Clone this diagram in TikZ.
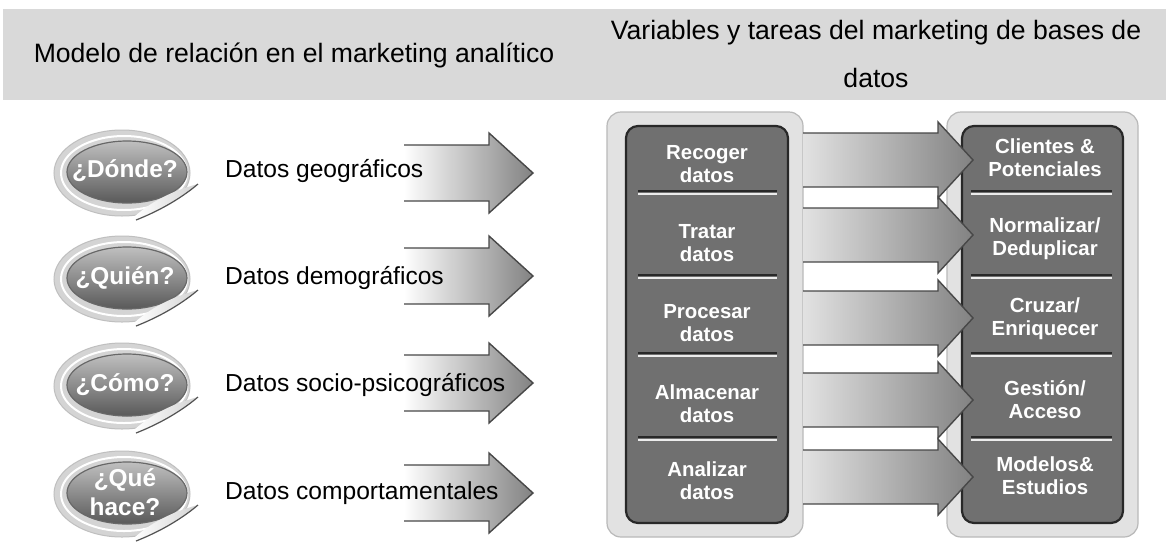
\documentclass[tikz,border=0pt]{standalone}
\usepackage{fontspec}
\setmainfont{Liberation Sans}
\usetikzlibrary{positioning,calc}
\definecolor{mkHead}{RGB}{217,217,217}
\definecolor{mkDark}{RGB}{112,112,112}
\definecolor{mkDeep}{RGB}{40,40,40}
\definecolor{mkFrame}{RGB}{226,226,226}
\definecolor{mkRing}{RGB}{212,212,212}
\definecolor{mkArrow}{RGB}{130,130,130}

\tikzset{
  headtext/.style={font=\fontsize{13.3}{24}\selectfont, align=center},
  asktext/.style={font=\fontsize{12.2}{14.5}\selectfont\bfseries, text=white, align=center},
  datatext/.style={font=\fontsize{12.3}{14}\selectfont, anchor=west},
  tasktext/.style={font=\fontsize{10.2}{11.5}\selectfont\bfseries, text=white, align=center},
  panelframe/.style={fill=mkFrame, draw=gray!55, line width=0.6pt, rounded corners=7pt},
  panelbody/.style={fill=mkDark, draw=mkDeep, line width=1.1pt, rounded corners=6pt},
  arrowedge/.style={draw=mkDeep!85, line width=0.7pt, line join=miter},
}

% block arrow: x start, x head, x tip, y centre, half body, half head, start colour
\newcommand{\blockarrow}[7]{%
  \shade[left color=#7, right color=mkArrow] (#1,#4-#5) -- (#2,#4-#5) -- (#2,#4-#6) -- (#3,#4)
    -- (#2,#4+#6) -- (#2,#4+#5) -- (#1,#4+#5) -- cycle;
  \draw[arrowedge] (#1,#4-#5) -- (#2,#4-#5) -- (#2,#4-#6) -- (#3,#4)
    -- (#2,#4+#6) -- (#2,#4+#5) -- (#1,#4+#5);
}

% sticker bubble round a centre, with its peeled corner
\newcommand{\sticker}[2]{%
  \fill[mkRing, draw=gray!50, line width=0.5pt] (#1,#2) ellipse [x radius=68, y radius=43];
  \draw[white, line width=1pt] (#1+2,#2) ellipse [x radius=63, y radius=37];
  \shade[top color=gray!50, bottom color=gray!70!black, draw=mkDeep!70, line width=0.6pt]
    (#1+5,#2-1) ellipse [x radius=60, y radius=31];
  \shade[left color=white, right color=gray!35] (#1+12,#2+44) .. controls (#1+30,#2+28) and (#1+50,#2+18) .. (#1+76,#2+11)
    .. controls (#1+56,#2+28) and (#1+32,#2+40) .. (#1+14,#2+47) -- cycle;
  \draw[mkDeep!80, line width=0.6pt] (#1+76,#2+11) .. controls (#1+56,#2+28) and (#1+32,#2+40) .. (#1+14,#2+47);
}

\begin{document}
\begin{tikzpicture}[x=0.5pt, y=-0.5pt]
  \fill[white] (0,0) rectangle (1170,541);
  \useasboundingbox (0,0) rectangle (1170,541);

  % Header band
  \fill[mkHead] (3,9) rectangle (1166,100);
  \node[headtext] (hdrLeft) at (294,55) {Modelo de relación en el marketing analítico};
  \node[headtext] (hdrRight) at (876,54) {Variables y tareas del marketing de bases de\\datos};

  % Left: questions and data types
  \sticker{122}{173}
  \sticker{122}{279}
  \sticker{122}{386}
  \sticker{122}{494}

  \blockarrow{404}{489}{533}{173}{28}{40}{white}
  \blockarrow{404}{489}{533}{276}{28}{40}{white}
  \blockarrow{404}{489}{533}{383}{28}{40}{white}
  \blockarrow{404}{489}{533}{493}{28}{40}{white}

  \node[asktext] (askWhere) at (125,171) {¿Dónde?};
  \node[asktext] (askWho) at (125,278) {¿Quién?};
  \node[asktext] (askHow) at (125,385) {¿Cómo?};
  \node[asktext] (askWhat) at (125,492) {¿Qué\\hace?};

  \node[datatext] (datGeo) at (218,171) {Datos geográficos};
  \node[datatext] (datDemo) at (218,278) {Datos demográficos};
  \node[datatext] (datSocio) at (218,385) {Datos socio-psicográficos};
  \node[datatext] (datComp) at (218,493) {Datos comportamentales};

  % Right: task panels
  \draw[panelframe] (607,112) rectangle (803,537);
  \draw[panelbody] (626,126) rectangle (788,523);
  \draw[panelframe] (947,112) rectangle (1138,537);
  \draw[panelbody] (962,126) rectangle (1123,523);

  % Dividers
  \foreach \dy in {191,275,353,437}{
    \draw[mkDeep, line width=1pt] (638,\dy) -- (777,\dy);
    \draw[white!85!gray, line width=0.7pt] (638,\dy+3) -- (777,\dy+3);
    \draw[mkDeep, line width=1pt] (971,\dy) -- (1112,\dy);
    \draw[white!85!gray, line width=0.7pt] (971,\dy+3) -- (1112,\dy+3);
  }

  \blockarrow{803}{938}{973}{160}{27}{38}{mkFrame}
  \blockarrow{803}{938}{973}{235}{27}{38}{mkFrame}
  \blockarrow{803}{938}{973}{318}{27}{38}{mkFrame}
  \blockarrow{803}{938}{973}{400}{27}{38}{mkFrame}
  \blockarrow{803}{938}{973}{477}{27}{38}{mkFrame}

  \node[tasktext] (tRecoger) at (707,164) {Recoger\\datos};
  \node[tasktext] (tTratar) at (707,243) {Tratar\\datos};
  \node[tasktext] (tProcesar) at (707,323) {Procesar\\datos};
  \node[tasktext] (tAlmacenar) at (707,404) {Almacenar\\datos};
  \node[tasktext] (tAnalizar) at (707,481) {Analizar\\datos};

  \node[tasktext] (rClientes) at (1045,158) {Clientes \&\\Potenciales};
  \node[tasktext] (rNormalizar) at (1045,239) {Normalizar/\\Deduplicar};
  \node[tasktext] (rCruzar) at (1045,319) {Cruzar/\\Enriquecer};
  \node[tasktext] (rGestion) at (1045,400) {Gestión/\\Acceso};
  \node[tasktext] (rModelos) at (1045,476) {Modelos\&\\Estudios};
\end{tikzpicture}
\end{document}
